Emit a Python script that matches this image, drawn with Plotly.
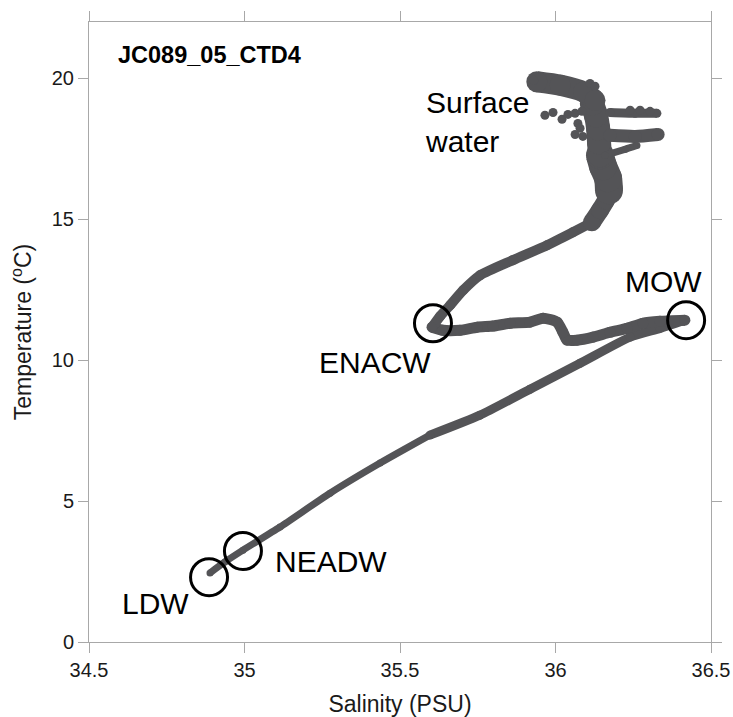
import plotly.graph_objects as go

FONT = "Liberation Sans, Arial, Helvetica, sans-serif"
GREY = "#545457"

# ---- T-S profile (salinity PSU, temperature degC) ----
# deep branch: LDW -> NEADW -> MOW
deep_lo_S = [34.889, 34.937, 34.995, 35.114, 35.275, 35.436, 35.596]
deep_lo_T = [2.45, 2.84, 3.26, 4.08, 5.28, 6.35, 7.34]
deep_hi_S = [35.596, 35.757, 35.918, 36.079, 36.240, 36.336, 36.416]
deep_hi_T = [7.34, 8.05, 8.97, 9.89, 10.82, 11.13, 11.42]
# intermediate branch: MOW -> ENACW
mid_S = [36.416, 36.336, 36.281, 36.230, 36.175, 36.121, 36.069, 36.037, 36.024,
         36.005, 35.960, 35.918, 35.854, 35.799, 35.748, 35.693, 35.638, 35.603]
mid_T = [11.42, 11.38, 11.31, 11.13, 10.99, 10.82, 10.71, 10.71, 10.99,
         11.35, 11.49, 11.35, 11.31, 11.21, 11.17, 11.06, 11.06, 11.17]
# upper branch: ENACW -> thermocline
up_S = [35.603, 35.629, 35.661, 35.703, 35.757, 35.863, 35.973, 36.056, 36.117]
up_T = [11.17, 11.56, 11.95, 12.48, 13.01, 13.55, 14.08, 14.54, 14.89]
# surface column
col1_S = [36.117, 36.143, 36.162, 36.172]
col1_T = [14.89, 15.32, 15.67, 16.03]
col2_S = [36.172, 36.169, 36.153, 36.143]
col2_T = [16.03, 16.45, 16.88, 17.27]
col3_S = [36.143, 36.140, 36.137, 36.130, 36.117]
col3_T = [17.27, 17.73, 18.23, 18.69, 19.11]
blob_S = [35.940, 36.015, 36.090, 36.127]
blob_T = [19.88, 19.76, 19.52, 19.22]
arm1_S = [36.175, 36.256, 36.326]
arm1_T = [18.79, 18.76, 18.76]
arm2_S = [36.175, 36.256, 36.330]
arm2_T = [17.98, 17.94, 18.01]
arm3_S = [36.159, 36.223, 36.262]
arm3_T = [17.27, 17.48, 17.62]
dots_S = [35.966, 35.992, 36.021, 36.040, 36.063, 36.085, 36.072, 36.079, 36.063,
          36.088, 36.111, 36.127, 36.240, 36.272, 36.304, 35.930]
dots_T = [18.69, 18.79, 18.55, 18.72, 18.76, 18.83, 18.40, 18.23, 18.01,
          17.94, 19.82, 19.72, 18.87, 18.87, 18.83, 19.93]

# water masses (circle centres) and labels
mass_S = [35.606, 36.420, 34.995, 34.886]
mass_T = [11.31, 11.42, 3.23, 2.30]
label_text = ["ENACW", "MOW", "NEADW", "LDW", "Surface<br>water"]
label_S = [35.233, 36.217, 35.092, 34.600, 35.574]
label_T = [9.93, 12.80, 2.84, 1.35, 18.44]

x_ticks = [34.5, 35, 35.5, 36, 36.5]
x_ticktext = ["34.5", "35", "35.5", "36", "36.5"]
y_ticks = [0, 5, 10, 15, 20]

fig = go.Figure()

segments = [
    (deep_lo_S, deep_lo_T, 7),
    (deep_hi_S, deep_hi_T, 9),
    (mid_S, mid_T, 11),
    (up_S, up_T, 10),
    (col1_S, col1_T, 18),
    (col2_S, col2_T, 28),
    (col3_S, col3_T, 24),
    (blob_S, blob_T, 21),
    (arm1_S, arm1_T, 9),
    (arm2_S, arm2_T, 13),
    (arm3_S, arm3_T, 7),
]
for s, t, w in segments:
    fig.add_trace(go.Scatter(
        x=s, y=t, mode="lines+markers",
        line=dict(color=GREY, width=w, shape="spline", smoothing=0.6),
        marker=dict(color=GREY, size=w, line=dict(width=0)),
        showlegend=False, hoverinfo="skip"))

fig.add_trace(go.Scatter(
    x=dots_S, y=dots_T, mode="markers",
    marker=dict(color=GREY, size=9, line=dict(width=0)),
    showlegend=False, hoverinfo="skip"))

fig.add_trace(go.Scatter(
    x=mass_S, y=mass_T, mode="markers",
    marker=dict(symbol="circle-open", size=37, color="black",
                line=dict(color="black", width=3)),
    showlegend=False, hoverinfo="skip"))

for txt, s, t in zip(label_text, label_S, label_T):
    fig.add_annotation(x=s, y=t, xref="x", yref="y", text=txt,
                       showarrow=False, xanchor="left", yanchor="middle",
                       align="left", font=dict(family=FONT, size=30, color="black"))

fig.add_annotation(x=34.588, y=20.82, xref="x", yref="y", text="<b>JC089_05_CTD4</b>",
                   showarrow=False, xanchor="left", yanchor="middle",
                   font=dict(family=FONT, size=23.5, color="black"))

axis_common = dict(
    showline=True, linecolor="#a8a8a8", linewidth=1, mirror="ticks",
    ticks="outside", ticklen=10, tickcolor="#a8a8a8", tickwidth=1,
    showgrid=False, zeroline=False, automargin=False,
    tickfont=dict(family=FONT, size=20, color="#1a1a1a"),
)

fig.update_xaxes(range=[34.5, 36.5], tickvals=x_ticks, ticktext=x_ticktext,
                 title=dict(text="Salinity (PSU)", standoff=15,
                            font=dict(family=FONT, size=23, color="#1a1a1a")),
                 **axis_common)
fig.update_yaxes(range=[0, 22], tickvals=y_ticks,
                 title=dict(text="Temperature (<sup>o</sup>C)", standoff=13,
                            font=dict(family=FONT, size=23, color="#1a1a1a")),
                 **axis_common)

fig.update_layout(
    width=733, height=717, autosize=False,
    margin=dict(l=89, r=22, t=22, b=75),
    paper_bgcolor="white", plot_bgcolor="white",
    font=dict(family=FONT),
)

fig.write_html("out.html")
